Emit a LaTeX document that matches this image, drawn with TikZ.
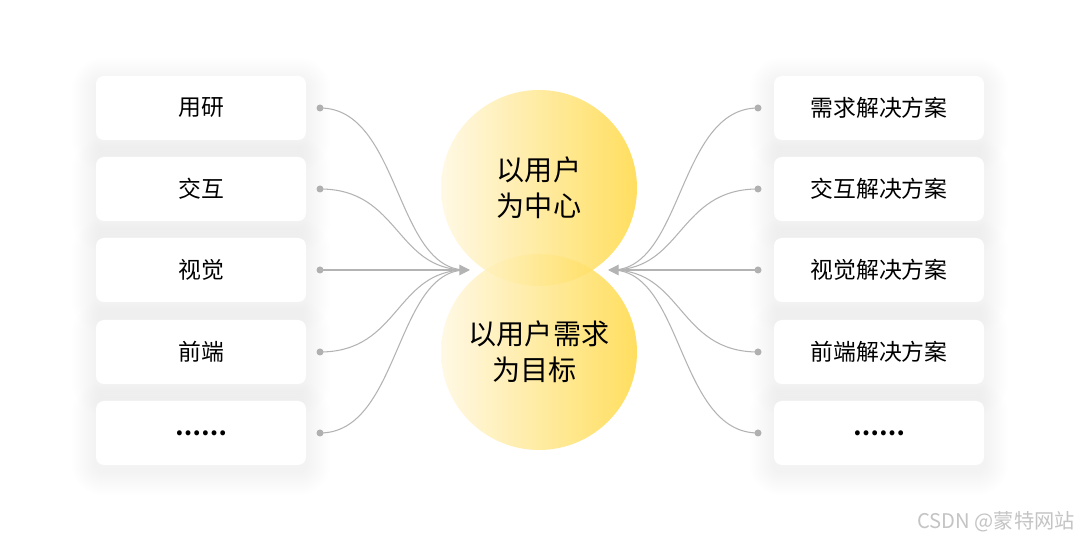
\documentclass[tikz,border=0pt]{standalone}
\usepackage{fontspec}
\setmainfont{Noto Sans CJK SC}
\newfontfamily\wmfont{Noto Sans CJK SC}
\usetikzlibrary{arrows.meta,calc,backgrounds}
\definecolor{linegray}{HTML}{B3B3B3}
\definecolor{dotgray}{HTML}{B0B0B0}
\definecolor{ylight}{HTML}{FFF8E1}
\definecolor{ydark}{HTML}{FFD944}
\definecolor{wmgray}{HTML}{C4C4C4}
\begin{document}
\begin{tikzpicture}[x=0.02cm,y=-0.02cm,
  card/.style={draw=none,fill=white,rounded corners=8*0.02cm,minimum width=210*0.02cm,minimum height=64*0.02cm,
    font=\fontsize{13}{15}\selectfont},
  dotn/.style={circle,fill=dotgray,inner sep=0pt,minimum size=7*0.02cm},
  conn/.style={draw=linegray,line width=0.6pt},
  tipconn/.style={conn,-{Triangle[length=6pt,width=6pt]}},
  bubble/.style={circle,minimum size=196*0.02cm,inner sep=0pt,left color=ylight,right color=ydark,fill opacity=0.85,text opacity=1,
    font=\fontsize{16}{20.5}\selectfont,align=center}
]
\useasboundingbox (0,0) rectangle (1080,540);
% left cards
\node[card] (l1) at (201,108) {用研};
\node[card] (l2) at (201,189) {交互};
\node[card] (l3) at (201,270) {视觉};
\node[card] (l4) at (201,352) {前端};
\node[card] (l5) at (201,433) {\textbf{……}};
% right cards
\node[card] (r1) at (879,108) {需求解决方案};
\node[card] (r2) at (879,189) {交互解决方案};
\node[card] (r3) at (879,270) {视觉解决方案};
\node[card] (r4) at (879,352) {前端解决方案};
\node[card] (r5) at (879,433) {\textbf{……}};
% background and soft shadows
\begin{scope}[on background layer]
\fill[white] (0,0) rectangle (1080,540);
\foreach \n in {l1,l2,l3,l4,l5,r1,r2,r3,r4,r5}{
  \foreach \k in {2,4,...,24}{
    \fill[black,opacity=0.0035,rounded corners=(8+\k)*0.02cm]
      ($(\n.north west)+(-\k,-\k+6)$) rectangle ($(\n.south east)+(\k,\k+6)$);
  }
}
\end{scope}
% dots
\foreach \i/\y in {1/108,2/189,3/270,4/352,5/433}{
  \node[dotn] (dl\i) at (320,\y) {};
  \node[dotn] (dr\i) at (758,\y) {};
}
\coordinate (tl) at (470,270);
\coordinate (tr) at (608,270);
% bubbles
\node[bubble] (c1) at (539,188) {以用户\\为中心};
\node[bubble] (c2) at (539,352) {以用户需求\\为目标\,\,};
% left connectors
\foreach \i in {1,2,4,5}{
  \draw[conn] (dl\i.center) .. controls ($(dl\i.center)+(80,0)$) and ($(tl)+(-75,0)$) .. ($(tl)+(-4,0)$);
}
\draw[tipconn] (dl3.center) -- (tl);
\foreach \i in {1,2,4,5}{
  \draw[conn] (dr\i.center) .. controls ($(dr\i.center)+(-80,0)$) and ($(tr)+(75,0)$) .. ($(tr)+(4,0)$);
}
\draw[tipconn] (dr3.center) -- (tr);
% watermark
\node[anchor=east,text=wmgray,font=\wmfont\fontsize{11.5}{13}\selectfont,inner sep=0pt] (wm) at (1075,522) {CSDN @蒙特网站};
\end{tikzpicture}
\end{document}
